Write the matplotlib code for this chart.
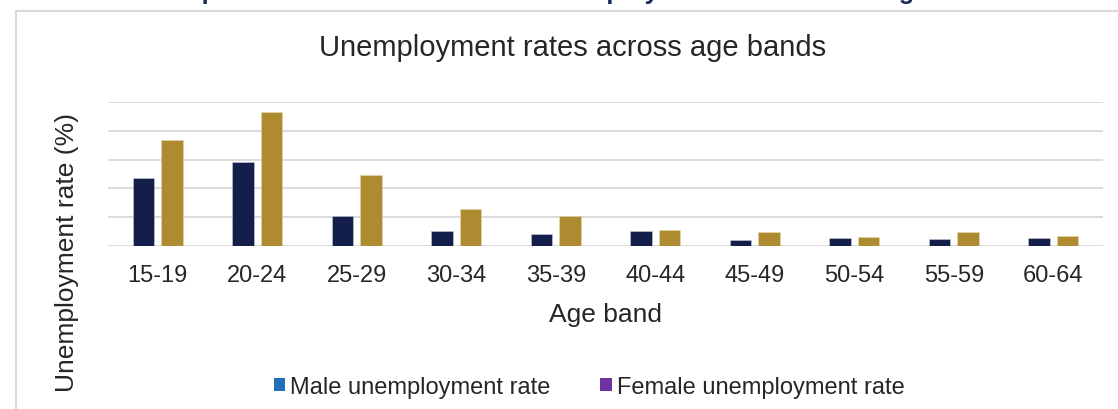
import numpy as np
import matplotlib
matplotlib.use("Agg")
import matplotlib.pyplot as plt
from matplotlib.patches import Rectangle, Patch

plt.rcParams['font.family'] = ['Liberation Sans', 'DejaVu Sans']

age_bands = ["15-19", "20-24", "25-29", "30-34", "35-39",
             "40-44", "45-49", "50-54", "55-59", "60-64"]
male_rate = [11.8, 14.6, 5.3, 2.6, 2.1, 2.6, 1.1, 1.4, 1.2, 1.4]
female_rate = [18.4, 23.2, 12.4, 6.5, 5.2, 2.8, 2.5, 1.6, 2.5, 1.7]

MALE_COL = '#131f4a'
FEMALE_COL = '#ae8a30'
TEXT_COL = '#262626'
GRID_COL = '#d9d9d9'

W, H = 1118, 410
fig = plt.figure(figsize=(W / 100, H / 100), dpi=100)
ax = fig.add_axes([108 / W, 1 - 247.3 / H, (1103 - 108) / W, (247.3 - 102.7) / H])

x = np.arange(len(age_bands))
bw = 0.218
ax.bar(x - 0.143, male_rate, bw, color=MALE_COL, edgecolor='#c8cad6', linewidth=0.4, zorder=3)
ax.bar(x + 0.143, female_rate, bw, color=FEMALE_COL, edgecolor='#e6d9b0', linewidth=0.4, zorder=3)

ax.set_xlim(-0.5, len(age_bands) - 0.5)
ax.set_ylim(0, 25)
ax.set_yticks(np.arange(0, 26, 5))
ax.set_yticklabels([])
ax.grid(axis='y', color=GRID_COL, linewidth=1.3, zorder=0)
ax.tick_params(axis='y', length=0)
ax.tick_params(axis='x', length=0, pad=13, labelsize=17, labelcolor=TEXT_COL)
ax.set_xticks(x)
ax.set_xticklabels(age_bands)
for s in ax.spines.values():
    s.set_visible(False)
ax.set_xlabel("Age band", fontsize=19, color=TEXT_COL, labelpad=11)

# chart title and y label
fig.text(573 / W, 1 - 48 / H, "Unemployment rates across age bands",
         ha='center', va='center', fontsize=21, color=TEXT_COL)
fig.text(67 / W, 1 - 252 / H, "Unemployment rate (%)", rotation=90,
         ha='center', va='center', fontsize=19, color=TEXT_COL)

# legend (colours as shown in the source)
handles = [Patch(facecolor='#1f70b8', label='Male unemployment rate'),
           Patch(facecolor='#7032a0', label='Female unemployment rate')]
fig.legend(handles=handles, loc='center', bbox_to_anchor=(589 / W, 1 - 388 / H),
           ncol=2, frameon=False, fontsize=17, handlelength=0.5, handleheight=0.5,
           handletextpad=0.2, columnspacing=2.1, labelcolor=TEXT_COL)

# chart frame, cut by the page edge
fig.add_artist(Rectangle((16 / W, -0.1), 1.2, 1 - 12 / H + 0.1, transform=fig.transFigure,
                         fill=False, edgecolor=GRID_COL, linewidth=1.5))

# page heading above the chart, mostly cut off
fig.text(41 / W, 1 + 1.5 / H, "Chart 1: Comparison of male and female unemployment rates across age bands",
         ha='left', va='baseline', fontsize=18.4, fontweight='bold', color='#1a2a5e')

fig.savefig("out.png", dpi=100)
